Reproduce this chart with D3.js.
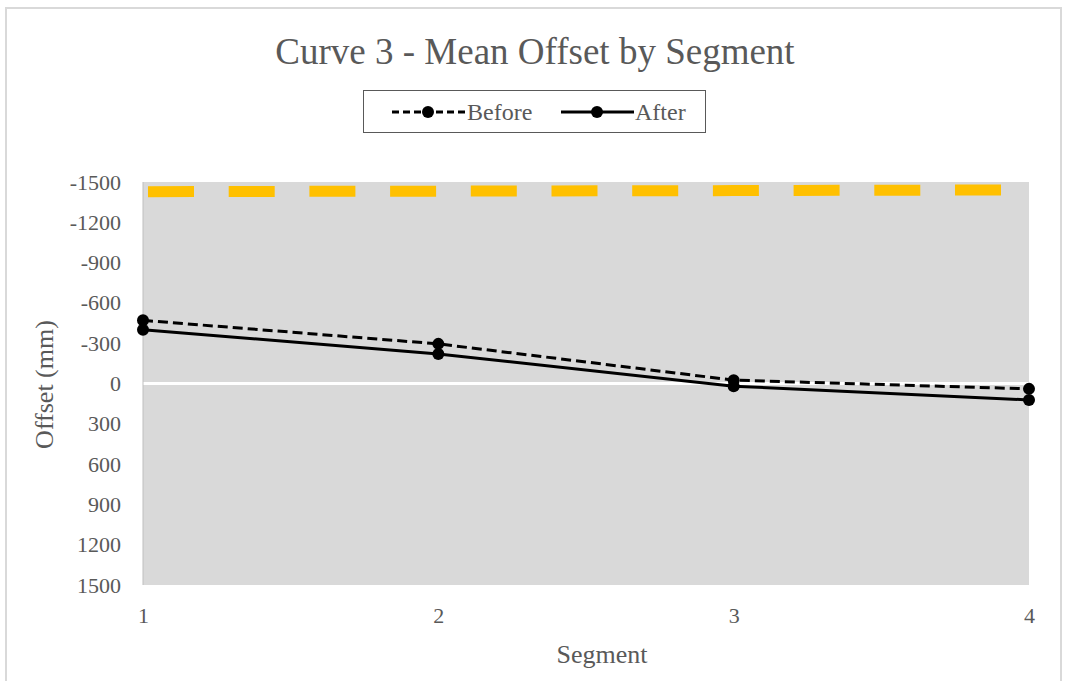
<!DOCTYPE html>
<html>
<head>
<meta charset="utf-8">
<script src="https://cdn.jsdelivr.net/npm/d3@7"></script>
<style>
  body { margin: 0; background: #fff; }
  text { font-family: "Liberation Serif", "Times New Roman", serif; fill: #595959; }
</style>
</head>
<body>
<div id="chart"></div>
<script>
// chart data
let segments = [1, 2, 3, 4];
let before = [-470, -295, -25, 40];
let after = [-400, -220, 20, 122];
let limit = [-1428, -1432, -1436, -1441];
let yTicks = [-1500, -1200, -900, -600, -300, 0, 300, 600, 900, 1200, 1500];

let width = 1065, height = 681;
let plot = { left: 143, right: 1029, top: 182, bottom: 585 };

let svg = d3.select("#chart")
    .append("svg")
    .attr("width", width)
    .attr("height", height);

// outer chart frame
svg.append("rect")
    .attr("x", 6).attr("y", 8)
    .attr("width", 1055).attr("height", 690)
    .attr("fill", "#fff")
    .attr("stroke", "#d9d9d9")
    .attr("stroke-width", 2);

let x = d3.scaleLinear().domain([1, 4]).range([plot.left, plot.right]);
// reversed: negative values on top
let y = d3.scaleLinear().domain([-1500, 1500]).range([plot.top, plot.bottom]);

// plot background
svg.append("rect")
    .attr("x", plot.left).attr("y", plot.top)
    .attr("width", plot.right - plot.left)
    .attr("height", plot.bottom - plot.top)
    .attr("fill", "#d9d9d9");

// zero line
svg.append("line")
    .attr("x1", plot.left).attr("x2", plot.right)
    .attr("y1", y(0)).attr("y2", y(0))
    .attr("stroke", "#fff").attr("stroke-width", 3);

// left axis line
svg.append("line")
    .attr("x1", plot.left).attr("x2", plot.left)
    .attr("y1", plot.top).attr("y2", plot.bottom)
    .attr("stroke", "#bfbfbf").attr("stroke-width", 1);

// y axis
let yAxis = svg.append("g")
    .attr("transform", "translate(" + (plot.left - 22) + ",0)")
    .call(d3.axisLeft(y).tickValues(yTicks).tickFormat(function(d) { return String(d); }).tickSize(0).tickPadding(0));
yAxis.select(".domain").remove();
yAxis.attr("font-family", null).attr("font-size", null);
yAxis.selectAll("text")
    .style("font-size", "22px")
    .attr("fill", "#595959");

// x axis
let xAxis = svg.append("g")
    .attr("transform", "translate(0," + (plot.bottom + 22) + ")")
    .call(d3.axisBottom(x).tickValues(segments).tickFormat(function(d) { return String(d); }).tickSize(0).tickPadding(0));
xAxis.select(".domain").remove();
xAxis.attr("font-family", null).attr("font-size", null);
xAxis.selectAll("text")
    .style("font-size", "22px")
    .attr("fill", "#595959");

// limit line (orange dashes)
let line = d3.line()
    .x(function(d, i) { return x(segments[i]); })
    .y(function(d) { return y(d); });

svg.append("path")
    .datum(limit)
    .attr("d", line)
    .attr("fill", "none")
    .attr("stroke", "#ffc000")
    .attr("stroke-width", 11)
    .attr("stroke-dasharray", "46,34.7")
    .attr("stroke-dashoffset", -5);

// before (dashed)
svg.append("path")
    .datum(before)
    .attr("d", line)
    .attr("fill", "none")
    .attr("stroke", "#000")
    .attr("stroke-width", 3)
    .attr("stroke-dasharray", "10,5");

// after (solid)
svg.append("path")
    .datum(after)
    .attr("d", line)
    .attr("fill", "none")
    .attr("stroke", "#000")
    .attr("stroke-width", 3);

[before, after].forEach(function(series) {
    svg.selectAll(null)
        .data(series)
        .enter()
        .append("circle")
        .attr("cx", function(d, i) { return x(segments[i]); })
        .attr("cy", function(d) { return y(d); })
        .attr("r", 6)
        .attr("fill", "#000");
});

// title
svg.append("text")
    .attr("x", 535).attr("y", 64)
    .attr("text-anchor", "middle")
    .style("font-size", "37px")
    .text("Curve 3 - Mean Offset by Segment");

// legend
let legend = svg.append("g");
legend.append("rect")
    .attr("x", 363.5).attr("y", 90.5)
    .attr("width", 342).attr("height", 42)
    .attr("fill", "#fff")
    .attr("stroke", "#595959").attr("stroke-width", 1);

legend.append("line")
    .attr("x1", 392).attr("x2", 465)
    .attr("y1", 112).attr("y2", 112)
    .attr("stroke", "#000").attr("stroke-width", 3)
    .attr("stroke-dasharray", "7,4");
legend.append("circle").attr("cx", 428).attr("cy", 112).attr("r", 6).attr("fill", "#000");
legend.append("text")
    .attr("x", 467).attr("y", 120)
    .style("font-size", "24px")
    .text("Before");

legend.append("line")
    .attr("x1", 561).attr("x2", 634)
    .attr("y1", 112).attr("y2", 112)
    .attr("stroke", "#000").attr("stroke-width", 3);
legend.append("circle").attr("cx", 597).attr("cy", 112).attr("r", 6).attr("fill", "#000");
legend.append("text")
    .attr("x", 635).attr("y", 120)
    .style("font-size", "24px")
    .text("After");

// axis titles
svg.append("text")
    .attr("transform", "translate(53," + (y(0) + 1) + ") rotate(-90)")
    .attr("text-anchor", "middle")
    .style("font-size", "26px")
    .text("Offset (mm)");

svg.append("text")
    .attr("x", 602)
    .attr("y", 663)
    .attr("text-anchor", "middle")
    .style("font-size", "26px")
    .text("Segment");
</script>
</body>
</html>
